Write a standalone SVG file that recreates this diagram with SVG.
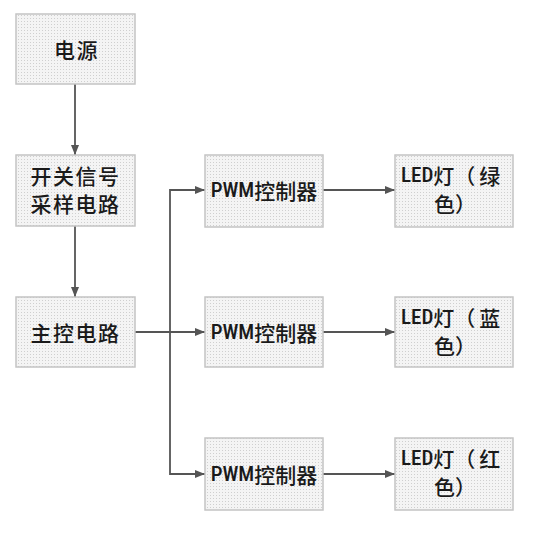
<svg xmlns="http://www.w3.org/2000/svg" width="540" height="536" viewBox="0 0 540 536">
<style>
.box{fill:url(#dots);stroke:#c4c4c4;stroke-width:1.5}
.t{font-family:"Noto Sans CJK SC","Noto Sans",sans-serif;font-size:21px;font-weight:500;fill:#1a1a1a;dominant-baseline:central}
.m{text-anchor:middle;letter-spacing:1.5px}
.lat{font-family:"Roboto Condensed","Liberation Sans Narrow","DejaVu Sans Condensed","Noto Sans CJK SC",sans-serif;font-stretch:condensed;font-weight:500}
.c{fill:none;stroke:#555;stroke-width:1.8}
</style>
<defs>
<pattern id="dots" width="3" height="3" patternUnits="userSpaceOnUse">
<rect width="3" height="3" fill="#f4f4f4"/>
<rect width="1" height="1" fill="#cfcfcf"/>
</pattern>
<marker id="ah" viewBox="0 0 10 10" refX="10" refY="5" markerWidth="10" markerHeight="10" markerUnits="userSpaceOnUse" orient="auto">
<path d="M0,1 L10,5 L0,9 Z" fill="#555"/>
</marker>
</defs>
<rect width="540" height="536" fill="#fff"/>
<g id="connectors">
<path class="c" d="M75,84 V155" marker-end="url(#ah)"/>
<path class="c" d="M75,226 V297" marker-end="url(#ah)"/>
<path class="c" d="M135,332 H205" marker-end="url(#ah)"/>
<path class="c" d="M205,190 H170 V474 H205" marker-end="url(#ah)"/>
<path class="c" d="M170,190 H205" marker-end="url(#ah)"/>
<path class="c" d="M323,190 H395" marker-end="url(#ah)"/>
<path class="c" d="M323,332 H395" marker-end="url(#ah)"/>
<path class="c" d="M323,474 H395" marker-end="url(#ah)"/>
</g>
<g id="power"><rect class="box" x="16" y="14" width="119" height="70"/><text class="t m" x="76.5" y="49">电源</text></g>
<g id="sampling"><rect class="box" x="16" y="155" width="119" height="71"/><text class="t m"><tspan x="75.5" y="175">开关信号</tspan><tspan x="75.5" y="202.5">采样电路</tspan></text></g>
<g id="main"><rect class="box" x="16" y="297" width="119" height="70"/><text class="t m" x="75.5" y="332">主控电路</text></g>
<g id="pwm1"><rect class="box" x="205" y="155" width="118" height="72"/><text class="t" x="264" y="190" text-anchor="middle"><tspan class="lat">PWM</tspan>控制器</text></g>
<g id="pwm2"><rect class="box" x="205" y="297" width="118" height="70"/><text class="t" x="264" y="332" text-anchor="middle"><tspan class="lat">PWM</tspan>控制器</text></g>
<g id="pwm3"><rect class="box" x="205" y="438" width="118" height="72"/><text class="t" x="264" y="474" text-anchor="middle"><tspan class="lat">PWM</tspan>控制器</text></g>
<g id="led1"><rect class="box" x="395" y="155" width="118" height="72"/><text class="t"><tspan x="401" y="175" class="lat">LED</tspan>灯（<tspan dx="4">绿</tspan><tspan x="434" y="202.5">色）</tspan></text></g>
<g id="led2"><rect class="box" x="395" y="297" width="118" height="70"/><text class="t"><tspan x="401" y="317" class="lat">LED</tspan>灯（<tspan dx="4">蓝</tspan><tspan x="434" y="344.5">色）</tspan></text></g>
<g id="led3"><rect class="box" x="395" y="438" width="118" height="72"/><text class="t"><tspan x="401" y="458" class="lat">LED</tspan>灯（<tspan dx="4">红</tspan><tspan x="434" y="485.5">色）</tspan></text></g>
</svg>
